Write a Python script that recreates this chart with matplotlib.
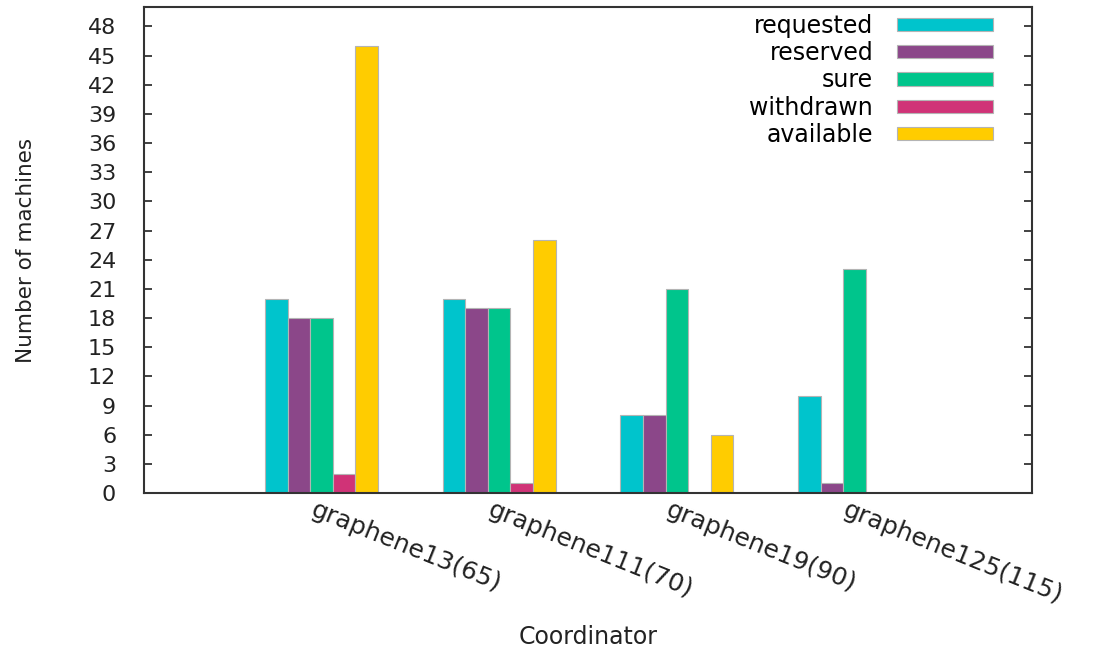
import numpy as np
import matplotlib
matplotlib.use('Agg')
import matplotlib.pyplot as plt

# data
coordinators = ['graphene13(65)', 'graphene111(70)', 'graphene19(90)', 'graphene125(115)']
series = ['requested', 'reserved', 'sure', 'withdrawn', 'available']
requested = [20, 20, 8, 10]
reserved = [18, 19, 8, 1]
sure = [18, 19, 21, 23]
withdrawn = [2, 1, 0, 0]
available = [46, 26, 6, 0]
colors = ['#00c4cc', '#8b4789', '#00c58c', '#d03377', '#ffcc00']

plt.rcParams['font.family'] = 'DejaVu Sans'
fig = plt.figure(figsize=(10.99, 6.53), dpi=100)
ax = fig.add_axes([144/1099, 1-493/653, 888/1099, 486/653])

x = np.arange(len(coordinators))
w = 0.127
for j, vals in enumerate([requested, reserved, sure, withdrawn, available]):
    ax.bar(x + (j-2)*w, vals, w, color=colors[j], edgecolor='#b4b4b4', linewidth=0.8,
           label=series[j])

ax.set_xlim(-1, 4)
ax.set_ylim(0, 50)
ax.set_yticks(np.arange(0, 49, 3))
ax.tick_params(axis='y', direction='in', length=6, width=1.2, labelsize=16, pad=20,
               right=True, colors='#222222')
ax.tick_params(axis='x', length=0)
ax.set_xticks([])
# rotated category names, gnuplot style
for i, name in enumerate(coordinators):
    ax.text(i - 0.03, -0.01, name, transform=ax.get_xaxis_transform(), rotation=-22,
            rotation_mode='anchor', ha='left', va='top', fontsize=18, color='#222222')

for s in ax.spines.values():
    s.set_linewidth(1.5)
    s.set_color('#333333')

ax.set_ylabel('Number of machines', fontsize=15.5, color='#222222')
ax.yaxis.set_label_coords(-0.122, 0.5)
ax.set_xlabel('Coordinator', fontsize=17, color='#222222')
ax.xaxis.set_label_coords(0.5, -0.272)

ax.legend(loc='upper right', bbox_to_anchor=(0.956, 0.986), frameon=False, markerfirst=False,
          fontsize=17, handlelength=4.07, handleheight=0.5, handletextpad=1.0,
          labelspacing=0.14, borderpad=0, borderaxespad=0)

fig.savefig('out.png', dpi=100)
